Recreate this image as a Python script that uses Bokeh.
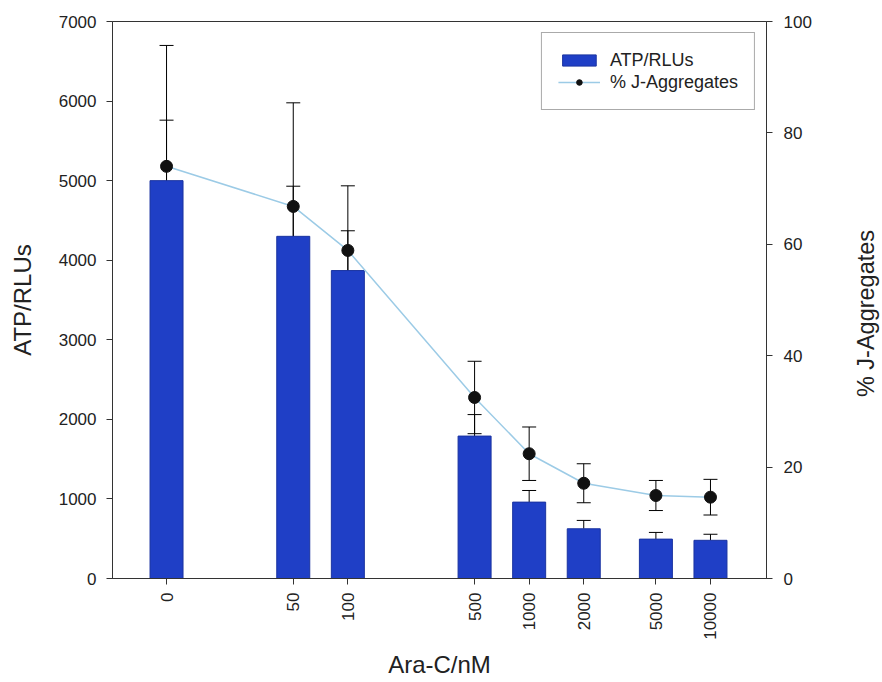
import math
import numpy as np
from bokeh.plotting import figure
from bokeh.models import (Range1d, LinearAxis, FixedTicker, ColumnDataSource, Whisker,
                          TeeHead, Legend, LegendItem, Label)
from bokeh.embed import file_html
from bokeh.resources import INLINE

# ---- data ----
conc_labels = ["0", "50", "100", "500", "1000", "2000", "5000", "10000"]
conc = [0, 50, 100, 500, 1000, 2000, 5000, 10000]
atp = [5000, 4300, 3870, 1790, 960, 625, 495, 480]
atp_err = [760, 630, 500, 270, 146, 105, 84, 76]
jagg = [74.0, 66.8, 58.9, 32.5, 22.4, 17.1, 14.9, 14.6]
jagg_err = [21.7, 18.6, 11.6, 6.5, 4.8, 3.5, 2.7, 3.2]
left_ticks = [0, 1000, 2000, 3000, 4000, 5000, 6000, 7000]
right_ticks = [0, 20, 40, 60, 80, 100]

# x positions on a log10 axis, with the zero-dose group placed one decade below 100
c = np.array(conc, dtype=float)
xpos = [float(v) for v in np.log10(np.where(c == 0, 10.0, c))]

FONT = "Liberation Sans"
TXT = "#222222"
BAR = "#1f3fc6"
LINE = "#9ccbe6"

src = ColumnDataSource(dict(
    x=xpos, atp=atp, atp_hi=[a + e for a, e in zip(atp, atp_err)],
    j=jagg, j_lo=[a - e for a, e in zip(jagg, jagg_err)],
    j_hi=[a + e for a, e in zip(jagg, jagg_err)],
))

p = figure(frame_width=654, frame_height=557, output_backend="svg", toolbar_location=None,
           x_range=Range1d(0.702, 4.309), y_range=Range1d(0, 7000),
           min_border_left=112, min_border_right=116, min_border_top=21, min_border_bottom=104)
p.extra_y_ranges = {"pct": Range1d(0, 100)}
p.background_fill_color = "white"
p.border_fill_color = "white"
p.outline_line_color = "#333333"
p.outline_line_width = 1
p.xgrid.visible = False
p.ygrid.visible = False

bars = p.vbar(x="x", top="atp", bottom=0, width=0.182, source=src,
              fill_color=BAR, line_color="#1a33a0", line_width=1)

w1 = Whisker(base="x", lower="atp", upper="atp_hi", source=src,
             line_color="black", line_width=1,
             upper_head=TeeHead(size=14, line_color="black", line_width=1),
             lower_head=None)
p.add_layout(w1)

w2 = Whisker(base="x", lower="j_lo", upper="j_hi", source=src, y_range_name="pct",
             line_color="black", line_width=1,
             upper_head=TeeHead(size=14, line_color="black", line_width=1),
             lower_head=TeeHead(size=14, line_color="black", line_width=1))
p.add_layout(w2)

ln = p.line(x="x", y="j", source=src, y_range_name="pct", line_color=LINE, line_width=1.5)
dots = p.scatter(x="x", y="j", source=src, y_range_name="pct", size=12,
                 fill_color="#111111", line_color="#111111")

# axes
xa = p.xaxis[0]
xa.ticker = FixedTicker(ticks=xpos)
xa.major_label_overrides = {xv: lab for xv, lab in zip(xpos, conc_labels)}
xa.major_label_orientation = math.pi / 2
xa.axis_label = "Ara-C/nM"
xa.minor_tick_line_color = None
xa.major_tick_out = 6
xa.major_tick_in = 0
xa.major_label_standoff = 8
xa.axis_label_standoff = 8

ya = p.yaxis[0]
ya.ticker = FixedTicker(ticks=left_ticks)
ya.axis_label = "ATP/RLUs"
ya.minor_tick_line_color = None
ya.major_tick_out = 6
ya.major_tick_in = 0
ya.major_label_standoff = 10
ya.axis_label_standoff = 20

ra = LinearAxis(y_range_name="pct", ticker=FixedTicker(ticks=right_ticks))
ra.minor_tick_line_color = None
ra.major_tick_out = 6
ra.major_tick_in = 0
ra.major_label_standoff = 11
p.add_layout(ra, "right")

for ax in (xa, ya, ra):
    ax.axis_line_color = "#333333"
    ax.major_tick_line_color = "#333333"
    ax.major_label_text_font = FONT
    ax.major_label_text_font_size = "17px"
    ax.major_label_text_color = TXT
    ax.axis_label_text_font = FONT
    ax.axis_label_text_font_size = "24px"
    ax.axis_label_text_font_style = "normal"
    ax.axis_label_text_color = TXT

rlab = Label(x=38, y=265, x_units="screen", y_units="screen", text="% J-Aggregates",
             angle=math.pi / 2, text_align="center", text_baseline="top",
             text_font=FONT, text_font_size="23.5px", text_color=TXT)
p.add_layout(rlab, "right")

legend = Legend(items=[LegendItem(label="ATP/RLUs", renderers=[bars]),
                       LegendItem(label="% J-Aggregates", renderers=[ln, dots])],
                location="top_right", margin=11, padding=16, spacing=0,
                glyph_width=42, glyph_height=14, label_height=22, label_standoff=10,
                label_text_font=FONT, label_text_font_size="18px", label_text_color=TXT,
                border_line_color="#555555", border_line_width=1,
                background_fill_color="white", background_fill_alpha=1.0)
p.add_layout(legend)

open("out.html", "w").write(file_html(p, INLINE))
